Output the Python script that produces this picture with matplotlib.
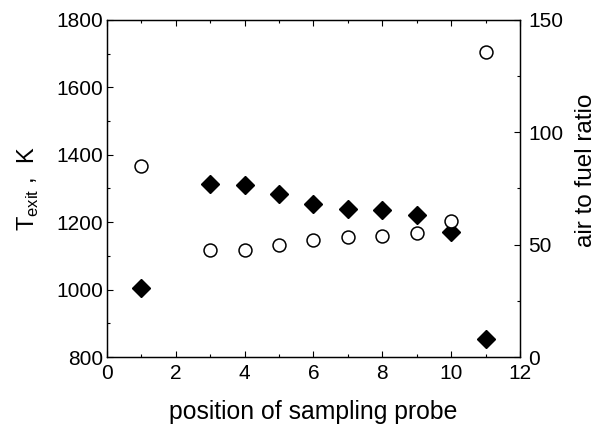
import matplotlib
matplotlib.use("Agg")
import matplotlib.pyplot as plt
from matplotlib.ticker import MultipleLocator

plt.rcParams['font.family'] = ['Liberation Sans', 'DejaVu Sans']

position = [1, 3, 4, 5, 6, 7, 8, 9, 10, 11]
t_exit = [1006, 1313, 1310, 1284, 1255, 1239, 1237, 1222, 1171, 852]
air_fuel = [85.2, 47.4, 47.8, 49.7, 52.1, 53.6, 53.9, 55.3, 60.4, 135.9]

fig = plt.figure(figsize=(6.03, 4.24), dpi=100)
ax = fig.add_axes([0.1774, 0.158, 0.685, 0.795])
ax2 = ax.twinx()

ax.plot(position, t_exit, linestyle='none', marker='D', markersize=8.7,
        color='black', markeredgecolor='black', zorder=3)
ax2.plot(position, air_fuel, linestyle='none', marker='o', markersize=9.3,
         markerfacecolor='white', markeredgecolor='black', markeredgewidth=1.1, zorder=3)

ax.set_xlim(0, 12)
ax.set_ylim(800, 1800)
ax2.set_ylim(0, 150)

ax.xaxis.set_major_locator(MultipleLocator(2))
ax.xaxis.set_minor_locator(MultipleLocator(1))
ax.yaxis.set_major_locator(MultipleLocator(200))
ax.yaxis.set_minor_locator(MultipleLocator(100))
ax2.yaxis.set_major_locator(MultipleLocator(50))
ax2.yaxis.set_minor_locator(MultipleLocator(25))

ax.tick_params(axis='x', which='both', direction='in', top=True, labelsize=15, pad=5)
ax.tick_params(axis='y', which='both', direction='in', labelsize=15, pad=3)
ax2.tick_params(axis='y', which='both', direction='in', labelsize=15, pad=6)
for a in (ax, ax2):
    a.tick_params(which='major', length=4, width=0.8)
    a.tick_params(which='minor', length=2.5, width=0.8)
    for s in a.spines.values():
        s.set_linewidth(0.9)

ax.set_xlabel('position of sampling probe', fontsize=17.8)
ax.xaxis.set_label_coords(0.5, -0.128)
ax.set_ylabel('T$_{\\mathregular{exit}}$ ,  K', fontsize=17)
ax.yaxis.set_label_coords(-0.16, 0.5)
ax2.set_ylabel('air to fuel ratio', fontsize=17.5)
ax2.yaxis.set_label_coords(1.133, 0.555)

fig.savefig('out.png', dpi=100)
